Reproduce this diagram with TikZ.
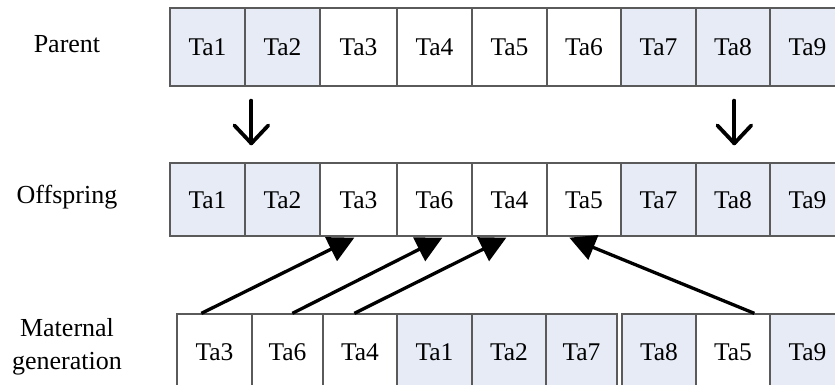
\documentclass[tikz,border=0pt]{standalone}
\usepackage{fontspec}
\setmainfont{Liberation Serif}
\usetikzlibrary{arrows.meta,calc}
\definecolor{cellblue}{HTML}{E6EBF5}
\definecolor{cellline}{HTML}{5A5A5A}
\tikzset{
  cell/.style={draw=cellline, line width=1.3pt, inner sep=0pt, text height=17pt, text depth=0pt, font=\fontsize{25.5}{27}\selectfont},
  blue/.style={cell, fill=cellblue},
  white/.style={cell, fill=white},
  lbl/.style={font=\fontsize{26}{33}\selectfont, align=center},
  downarrow/.style={line width=3.8pt, line cap=round, line join=round},
  movearrow/.style={line width=3.3pt, -{Triangle[length=26pt,width=26pt]}}
}
\begin{document}
\begin{tikzpicture}[x=1pt,y=-1pt]
\useasboundingbox (0,0) rectangle (835,385);
% Parent row: y 8..86
\foreach \n/\a/\b/\t/\s in {p1/170/245/Ta1/blue,p2/245/320/Ta2/blue,p3/320/397/Ta3/white,p4/397/472/Ta4/white,p5/472/547/Ta5/white,p6/547/621/Ta6/white,p7/621/696/Ta7/blue,p8/696/770/Ta8/blue,p9/770/845/Ta9/blue}{
  \node[\s, minimum width={(\b-\a)*1pt}, minimum height=78pt] (\n) at ({(\a+\b)/2},47) {\t};
}
% Offspring row: y 163..236
\foreach \n/\a/\b/\t/\s in {o1/170/245/Ta1/blue,o2/245/320/Ta2/blue,o3/320/397/Ta3/white,o4/397/472/Ta6/white,o5/472/547/Ta4/white,o6/547/621/Ta5/white,o7/621/696/Ta7/blue,o8/696/770/Ta8/blue,o9/770/845/Ta9/blue}{
  \node[\s, minimum width={(\b-\a)*1pt}, minimum height=73pt] (\n) at ({(\a+\b)/2},199.5) {\t};
}
% Maternal row: y 314..390
\foreach \n/\a/\b/\t/\s in {m1/177/252/Ta3/white,m2/252/323/Ta6/white,m3/323/397/Ta4/white,m4/397/472/Ta1/blue,m5/472/546/Ta2/blue,m6/546/617/Ta7/blue,m7/622/696/Ta8/blue,m8/696/770/Ta5/white,m9/770/845/Ta9/blue}{
  \node[\s, minimum width={(\b-\a)*1pt}, minimum height=76pt] (\n) at ({(\a+\b)/2},352) {\t};
}
% labels
\node[lbl] (lp) at (67,44) {Parent};
\node[lbl] (lo) at (67,197) {Offspring};
\node[lbl] (lm) at (67,347) {Maternal\\generation};
% down arrows
\coordinate (d1s) at ($(p2.south west)+(7,14)$);
\coordinate (d1e) at ($(o2.north west)+(7,-19)$);
\coordinate (d2s) at ($(p8.south west)+(39,14)$);
\coordinate (d2e) at ($(o8.north west)+(39,-19)$);
\draw[downarrow] (d1s) -- (d1e);
\draw[downarrow] ($(d1e)+(-17,-18)$) -- (d1e) -- ($(d1e)+(17,-18)$);
\draw[downarrow] (d2s) -- (d2e);
\draw[downarrow] ($(d2e)+(-17,-18)$) -- (d2e) -- ($(d2e)+(17,-18)$);
% move arrows
\draw[movearrow] ($(m1.north west)+(25,0)$) -- ($(o3.south west)+(35,1)$);
\draw[movearrow] ($(m2.north west)+(41,0)$) -- ($(o4.south west)+(46,1)$);
\draw[movearrow] ($(m3.north west)+(32,0)$) -- ($(o5.south west)+(35,1)$);
\draw[movearrow] ($(m8.north west)+(59,0)$) -- ($(o6.south west)+(23,1)$);
\end{tikzpicture}
\end{document}
